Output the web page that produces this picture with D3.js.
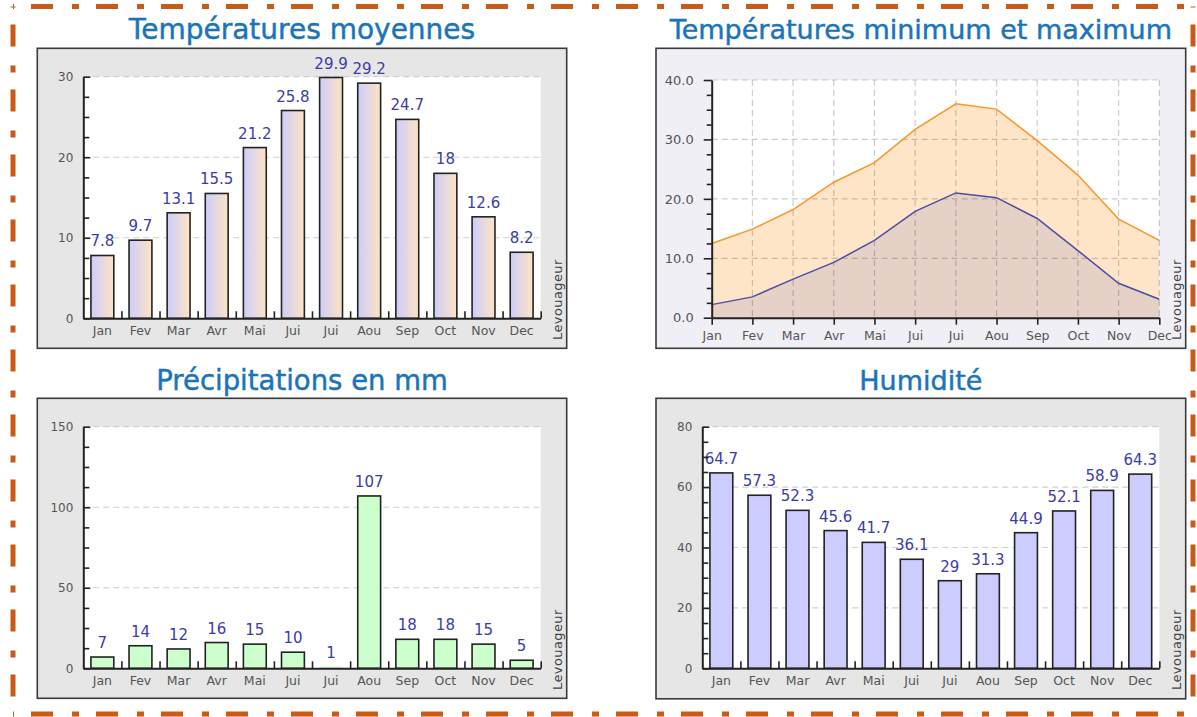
<!DOCTYPE html>
<html><head><meta charset="utf-8">
<script src="https://cdn.jsdelivr.net/npm/d3@7"></script>
<style>
body{margin:0;background:#fff;}
svg{display:block;font-family:"DejaVu Sans",sans-serif;}
</style>
</head><body>
<svg id="c" width="1197" height="717"></svg>
<script>
// ---------- data ----------
const months = ["Jan","Fev","Mar","Avr","Mai","Jui","Jui","Aou","Sep","Oct","Nov","Dec"];
const tempMoy = [7.8, 9.7, 13.1, 15.5, 21.2, 25.8, 29.9, 29.2, 24.7, 18, 12.6, 8.2];
const tempMin = [2.2, 3.5, 6.5, 9.3, 13.0, 17.9, 21.0, 20.2, 16.7, 11.3, 5.8, 3.1];
const tempMax = [12.5, 14.9, 18.2, 22.8, 26.1, 31.7, 36.0, 35.1, 29.8, 24.0, 16.6, 13.0];
const precip = [7, 14, 12, 16, 15, 10, 1, 107, 18, 18, 15, 5];
const humid = [64.7, 57.3, 52.3, 45.6, 41.7, 36.1, 29, 31.3, 44.9, 52.1, 58.9, 64.3];
const ticksMoy = [0, 10, 20, 30];
const ticksMinMax = [0, 10, 20, 30, 40];
const ticksPrecip = [0, 50, 100, 150];
const ticksHumid = [0, 20, 40, 60, 80];
const titles = ["Températures moyennes", "Températures minimum et maximum", "Précipitations en mm", "Humidité"];
const credit = "Levouageur";

const svg = d3.select("#c");
const defs = svg.append("defs");
const grad = defs.append("linearGradient").attr("id","gMoy").attr("x1","0").attr("x2","1").attr("y1","0").attr("y2","0");
grad.append("stop").attr("offset","0").attr("stop-color","#cdcdfb");
grad.append("stop").attr("offset","1").attr("stop-color","#fee3c3");

// ---------- outer dashed border ----------
const bc = "#c95b17";
function bline(x1,y1,x2,y2,off){
  svg.append("line").attr("x1",x1).attr("y1",y1).attr("x2",x2).attr("y2",y2)
    .attr("stroke",bc).attr("stroke-width",5).attr("stroke-dasharray","22 19 7 17").attr("stroke-dashoffset",off);
}
bline(13,6.5,1193,6.5,-18);
bline(13,6.5,13,714,-18);
bline(13,714,1193,714,-18);
bline(1193,6.5,1193,714,-18);

const TITLE_COLOR = "#1b74b8";
const LABEL_COLOR = "#3c3ca8";
const TICK_COLOR = "#555";

function panel(x0,y0,x1,y1,fill){
  svg.append("rect").attr("x",x0).attr("y",y0).attr("width",x1-x0).attr("height",y1-y0)
    .attr("fill",fill).attr("stroke","#3a3a3a").attr("stroke-width",1.6);
}
function title(text,cx,y,fs){
  svg.append("text").attr("x",cx).attr("y",y).attr("text-anchor","middle")
    .attr("font-size",fs).attr("fill",TITLE_COLOR)
    .attr("stroke",TITLE_COLOR).attr("stroke-width",0.45).text(text);
}
function creditText(x,y){
  svg.append("text").attr("transform",`translate(${x},${y}) rotate(-90)`)
    .attr("font-size",13).attr("fill","#444").attr("letter-spacing",0.4).text(credit);
}
function styleAxis(g,fs){
  g.selectAll(".domain").attr("stroke","#222").attr("stroke-width",2);
  g.selectAll(".tick line").attr("stroke","#222").attr("stroke-width",1.6);
  g.selectAll("text").attr("fill",TICK_COLOR).attr("font-size",fs||12).attr("font-family","DejaVu Sans");
}

function barChart(o){
  panel(o.px0,o.py0,o.px1,o.py1,"#e6e6e6");
  title(o.title,(o.px0+o.px1)/2,o.titleY,o.titleFs);
  const L=o.L,R=o.R,T=o.T,B=o.B;
  svg.append("rect").attr("x",L).attr("y",T).attr("width",R-L).attr("height",B-T).attr("fill","#fff");
  const x = d3.scaleBand().domain(d3.range(o.data.length)).range([L,R]).paddingInner(0.4).paddingOuter(0.2);
  const y = d3.scaleLinear().domain([0,o.ticks[o.ticks.length-1]]).range([B,T]);
  // grid
  svg.append("g").selectAll("line").data(o.ticks.filter(v=>v>0)).join("line")
    .attr("x1",L).attr("x2",R).attr("y1",d=>y(d)).attr("y2",d=>y(d))
    .attr("stroke","#cfcfcf").attr("stroke-width",1.2).attr("stroke-dasharray","6 4");
  // bars
  svg.append("g").selectAll("rect").data(o.data).join("rect")
    .attr("x",(d,i)=>x(i)).attr("width",x.bandwidth())
    .attr("y",d=>y(d)).attr("height",d=>B-y(d))
    .attr("fill",o.fill).attr("stroke",d=>(B-y(d))<3?"none":"#222").attr("stroke-width",1.6);
  // value labels
  svg.append("g").selectAll("text").data(o.data).join("text")
    .attr("x",(d,i)=>x(i)+x.bandwidth()/2).attr("y",d=>y(d)-9)
    .attr("text-anchor","middle").attr("font-size",15).attr("fill",LABEL_COLOR).text(d=>d);
  // y axis
  const minor = [];
  const stepMaj = o.ticks[1]-o.ticks[0];
  for (let v=0; v<o.ticks[o.ticks.length-1]; v+=stepMaj/4) if (!o.ticks.includes(v)) minor.push(v);
  const gy = svg.append("g").attr("transform",`translate(${L},0)`)
    .call(d3.axisLeft(y).tickValues(o.ticks).tickSize(-7).tickSizeOuter(0).tickPadding(10));
  styleAxis(gy);
  const gym = svg.append("g").attr("transform",`translate(${L},0)`)
    .call(d3.axisLeft(y).tickValues(minor).tickSize(-6).tickFormat(""));
  gym.select(".domain").remove(); styleAxis(gym);
  // x axis
  const gx = svg.append("g").attr("transform",`translate(0,${B})`)
    .call(d3.axisBottom(x).tickSize(0).tickSizeOuter(0).tickPadding(8).tickFormat(i=>months[i]));
  styleAxis(gx,12.5);
  const xb = d3.scaleLinear().domain([0,o.data.length]).range([L,R]);
  const gxb = svg.append("g").attr("transform",`translate(0,${B})`)
    .call(d3.axisBottom(xb).tickValues(d3.range(1,o.data.length+1)).tickSize(-7).tickFormat(""));
  gxb.select(".domain").remove(); styleAxis(gxb);
  creditText(o.creditX,o.creditY);
}

barChart({px0:37.3,py0:48.3,px1:566.7,py1:348.3,L:83.3,R:540.7,T:76.7,B:318.3,
  data:tempMoy,ticks:ticksMoy,fill:"url(#gMoy)",title:titles[0],titleY:39,titleFs:28,creditX:562,creditY:340});
barChart({px0:37.3,py0:398.3,px1:566.7,py1:698.3,L:83.3,R:540.7,T:426.7,B:668.3,
  data:precip,ticks:ticksPrecip,fill:"#ccffcc",title:titles[2],titleY:390,titleFs:27.5,creditX:562,creditY:690});
barChart({px0:656,py0:398.3,px1:1185.7,py1:698.8,L:702.3,R:1159.3,T:426.7,B:668.3,
  data:humid,ticks:ticksHumid,fill:"#ccccff",title:titles[3],titleY:390,titleFs:27,creditX:1181,creditY:690});

// ---------- min / max line chart ----------
(function(){
  const px0=656,py0=48.3,px1=1185.7,py1=348.3, L=711.7,R=1159.3,T=80,B=317.7;
  panel(px0,py0,px1,py1,"#f0eff5");
  title(titles[1],(px0+px1)/2,39,27);
  svg.append("rect").attr("x",L).attr("y",T).attr("width",R-L).attr("height",B-T).attr("fill","#fff");
  const x = d3.scalePoint().domain(d3.range(months.length)).range([L,R]);
  const y = d3.scaleLinear().domain([0,40]).range([B,T]);
  const area = d3.area().x((d,i)=>x(i)).y0(y(0)).y1(d=>y(d));
  const line = d3.line().x((d,i)=>x(i)).y(d=>y(d));
  svg.append("path").datum(tempMax).attr("d",area).attr("fill","#ffe5c8");
  svg.append("path").datum(tempMin).attr("d",area).attr("fill","#e6d1c6");
  // grid
  const gg = svg.append("g").attr("stroke","rgba(0,0,0,0.2)").attr("stroke-width",1.2).attr("stroke-dasharray","6 4");
  gg.selectAll("line.h").data(ticksMinMax.filter(v=>v>0)).join("line").attr("class","h")
    .attr("x1",L).attr("x2",R).attr("y1",d=>y(d)).attr("y2",d=>y(d));
  gg.selectAll("line.v").data(d3.range(1,months.length)).join("line").attr("class","v")
    .attr("x1",d=>x(d)).attr("x2",d=>x(d)).attr("y1",T).attr("y2",B);
  svg.append("path").datum(tempMax).attr("d",line).attr("fill","none").attr("stroke","#f7962a").attr("stroke-width",1.5);
  svg.append("path").datum(tempMin).attr("d",line).attr("fill","none").attr("stroke","#4d4ca6").attr("stroke-width",1.5);
  const minor=[]; for(let v=0; v<40; v+=2.5) if (v%10) minor.push(v);
  const gy = svg.append("g").attr("transform",`translate(${L},0)`)
    .call(d3.axisLeft(y).tickValues(ticksMinMax).tickSize(8).tickSizeOuter(0).tickPadding(10).tickFormat(d3.format(".1f")));
  styleAxis(gy,13);
  const gym = svg.append("g").attr("transform",`translate(${L},0)`)
    .call(d3.axisLeft(y).tickValues(minor).tickSize(5).tickFormat(""));
  gym.select(".domain").remove(); styleAxis(gym);
  const gx = svg.append("g").attr("transform",`translate(0,${B})`)
    .call(d3.axisBottom(x).tickSize(7).tickSizeOuter(0).tickPadding(6).tickFormat(i=>months[i]));
  styleAxis(gx,12.5);
  creditText(1181,340);
})();
</script>
</body></html>
